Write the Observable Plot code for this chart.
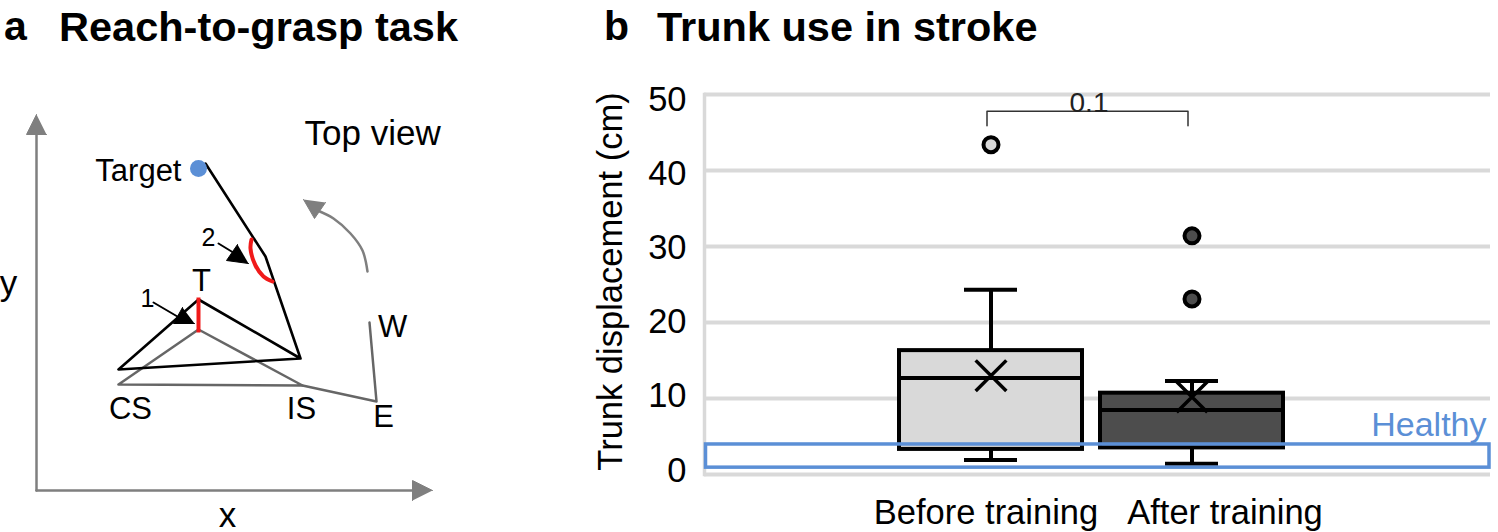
<!DOCTYPE html>
<html>
<head>
<meta charset="utf-8">
<script src="https://cdn.jsdelivr.net/npm/d3@7"></script>
<script src="https://cdn.jsdelivr.net/npm/@observablehq/plot@0.6"></script>
<style>
html,body{margin:0;padding:0;background:#fff;width:1498px;height:532px;overflow:hidden;font-family:"Liberation Sans",Arial,sans-serif}
#root{position:relative;width:1498px;height:532px}
#root svg{max-width:none;overflow:visible;background:transparent}
.t{position:absolute;font-weight:700;color:#000;white-space:nowrap;line-height:1}
</style>
</head>
<body>
<div id="root"></div>
<script>
// ---------- panel b data ----------
const categories = ["Before training", "After training"];
const q1 = [3.3, 3.5];
const median = [12.7, 8.5];
const q3 = [16.3, 10.7];
const whiskerLow = [1.9, 1.4];
const whiskerHigh = [24.3, 12.3];
const means = [13.0, 10.2];
const boxFills = ["#d9d9d9", "#4d4d4d"];
const outliers = [["Before training", 43.4], ["After training", 31.4], ["After training", 23.1]];
const yTicks = [0, 10, 20, 30, 40, 50];
const healthyRange = [0.9, 3.95];
const bracketLevels = [45.9, 47.8];
const pValue = "0.1";

// ---------- panel a schematic (schematic units) ----------
const axisYLine = [[36, 120], [36, 490]];
const axisXLine = [[36, 490], [420, 490]];
const axisYHead = [[36, 114], [26, 134], [46, 134]];
const axisXHead = [[432, 490], [412, 480], [412, 500]];
const blackArm = [[205, 163], [265, 256], [300, 358], [198, 299], [118, 369], [300, 358]];
const grayTrunk = [[118, 384], [198, 329], [302, 385], [118, 384]];
const grayArm = [[302, 385], [376, 401], [369, 322]];
const redTrunk = [[198, 297], [198, 332]];
const redArc = [[251, 239], [250, 248], [255, 265], [263, 276], [272, 281]];
const pointer1 = [[153, 302], [182, 319]];
const pointer1Head = [[194, 323], [173, 323], [182, 307]];
const pointer2 = [[218, 243], [236, 254]];
const pointer2Head = [[248, 263], [226, 260], [237, 244]];
const rotation = [[367, 271], [362, 250], [350, 233], [333, 218], [317, 210]];
const rotationHead = [[303, 199], [314, 218], [325, 202]];
const target = [[198, 168]];
const labelsA = [
  {t: "Target", x: 181, y: 171, a: "end", s: 31},
  {t: "Top view", x: 304, y: 133, a: "start", s: 35},
  {t: "T", x: 201, y: 281, a: "middle", s: 31},
  {t: "W", x: 392, y: 327, a: "middle", s: 31},
  {t: "CS", x: 130, y: 409, a: "middle", s: 31},
  {t: "IS", x: 301, y: 409, a: "middle", s: 31},
  {t: "E", x: 383, y: 417, a: "middle", s: 31},
  {t: "y", x: 8, y: 283, a: "middle", s: 35},
  {t: "x", x: 227, y: 515, a: "middle", s: 35},
  {t: "1", x: 147, y: 298, a: "middle", s: 25},
  {t: "2", x: 208, y: 237, a: "middle", s: 25}
];

const FONT = "Liberation Sans";
const root = document.getElementById("root");
const seg = (pts, opt) => Plot.line(pts, {x: d => d[0], y: d => d[1], ...opt});
const tri = (pts, color) => seg(pts, {fill: color, stroke: color, strokeWidth: 1});

const planA = Plot.plot({
  width: 460, height: 532, margin: 0,
  style: {fontFamily: FONT, background: "transparent"},
  x: {domain: [0, 460], range: [0, 460], axis: null},
  y: {domain: [0, 532], range: [0, 532], axis: null},
  marks: [
    seg(axisYLine, {stroke: "#7f7f7f", strokeWidth: 2.5}),
    seg(axisXLine, {stroke: "#7f7f7f", strokeWidth: 2.5}),
    tri(axisYHead, "#7f7f7f"),
    tri(axisXHead, "#7f7f7f"),
    seg(grayTrunk, {stroke: "#666", strokeWidth: 2.5}),
    seg(grayArm, {stroke: "#666", strokeWidth: 2.5}),
    seg(blackArm, {stroke: "#000", strokeWidth: 2.6, strokeLinejoin: "round"}),
    seg(redTrunk, {stroke: "#f01a1a", strokeWidth: 4, strokeLinecap: "butt"}),
    seg(redArc, {stroke: "#f01a1a", strokeWidth: 4, curve: "catmull-rom"}),
    seg(pointer1, {stroke: "#000", strokeWidth: 2}),
    tri(pointer1Head, "#000"),
    seg(pointer2, {stroke: "#000", strokeWidth: 2}),
    tri(pointer2Head, "#000"),
    seg(rotation, {stroke: "#7f7f7f", strokeWidth: 2.5, curve: "catmull-rom"}),
    tri(rotationHead, "#7f7f7f"),
    Plot.dot(target, {x: d => d[0], y: d => d[1], r: 8.5, fill: "#5b8fd6"}),
    ...labelsA.map(l => Plot.text([l], {x: "x", y: "y", text: "t", textAnchor: l.a, fontSize: l.s, fill: "#000", fontFamily: FONT}))
  ]
});
planA.style.position = "absolute"; planA.style.left = "0px"; planA.style.top = "0px";
root.appendChild(planA);

const OFF = 460;
const boxes = categories.map((c, i) => ({c, q1: q1[i], q3: q3[i], med: median[i], lo: whiskerLow[i], hi: whiskerHigh[i], mean: means[i], fill: boxFills[i]}));
const capInset = 65;
const outRows = outliers.map(([c, v]) => ({c, v, fill: boxFills[categories.indexOf(c)]}));
const bracket = [
  {c: categories[0], v: bracketLevels[0]},
  {c: categories[0], v: bracketLevels[1]},
  {c: categories[1], v: bracketLevels[1]},
  {c: categories[1], v: bracketLevels[0]}
];

const planB = Plot.plot({
  width: 1038, height: 532,
  marginLeft: 244, marginRight: 8, marginTop: 94, marginBottom: 58,
  style: {fontFamily: FONT, background: "transparent"},
  x: {type: "band", domain: categories, range: [880 - OFF, 1302 - OFF], padding: 0.09, axis: null},
  y: {domain: [0, 50], axis: null},
  marks: [
    Plot.ruleY(yTicks, {stroke: "#d9d9d9", strokeWidth: 4}),
    Plot.frame({anchor: "left", stroke: "#d9d9d9", strokeWidth: 3.5}),
    ...yTicks.map(t => Plot.text([t], {
      frameAnchor: "left", y: () => t, dx: -18, dy: t * 0.18 - 4, textAnchor: "end",
      fontSize: 34.5, fill: "#000", fontFamily: FONT
    })),
    Plot.text(["Trunk displacement (cm)"], {frameAnchor: "left", textAnchor: "middle", lineAnchor: "middle", rotate: -90, dx: -94, dy: -3, fontSize: 34.5, fill: "#000", fontFamily: FONT}),
    Plot.ruleX(boxes, {x: "c", y1: "lo", y2: "hi", stroke: "#000", strokeWidth: 4}),
    Plot.tickY(boxes, {x: "c", y: "hi", stroke: "#000", strokeWidth: 4, insetLeft: capInset, insetRight: capInset}),
    Plot.tickY(boxes, {x: "c", y: "lo", stroke: "#000", strokeWidth: 4, insetLeft: capInset, insetRight: capInset}),
    Plot.barY(boxes, {x: "c", y1: "q1", y2: "q3", fill: "fill", stroke: "#000", strokeWidth: 4}),
    Plot.tickY(boxes, {x: "c", y: "med", stroke: "#000", strokeWidth: 4}),
    Plot.dot(boxes, {x: "c", y: "mean", symbol: "times", r: 14, stroke: "#000", strokeWidth: 3.5}),
    Plot.dot(outRows, {x: "c", y: "v", r: 7.5, fill: "fill", stroke: "#000", strokeWidth: 4}),
    Plot.line(bracket, {x: "c", y: "v", stroke: "#333", strokeWidth: 1.5, dx: -4}),
    Plot.text([pValue], {x: () => categories[0], y: () => 49.2, dx: 98, dy: 2, fontSize: 28, fill: "#222", fontFamily: FONT}),
    Plot.rectY([healthyRange], {y1: d => d[0], y2: d => d[1], fill: "none", stroke: "#5b8fd6", strokeWidth: 3.5, insetLeft: 1.5, insetRight: 1}),
    Plot.text(["Healthy"], {frameAnchor: "top-right", dx: -4, dy: 331, lineAnchor: "middle", textAnchor: "end", fontSize: 34, fill: "#5b8fd6", fontFamily: FONT}),
    Plot.text([categories[0]], {x: () => categories[0], y: () => -5.1, dx: -5, fontSize: 34.5, fill: "#000", fontFamily: FONT}),
    Plot.text([categories[1]], {x: () => categories[1], y: () => -5.1, dx: 33, fontSize: 34.5, fill: "#000", fontFamily: FONT})
  ]
});
planB.style.position = "absolute"; planB.style.left = OFF + "px"; planB.style.top = "0px";
root.appendChild(planB);

[["a", 4, 6, 41], ["Reach-to-grasp task", 59, 6, 41.5], ["b", 604, 6, 41], ["Trunk use in stroke", 657, 6, 41.5]].forEach(([t, x, y, s]) => {
  const d = document.createElement("div");
  d.className = "t"; d.textContent = t;
  d.style.left = x + "px"; d.style.top = y + "px"; d.style.fontSize = s + "px";
  root.appendChild(d);
});
</script>
</body>
</html>
